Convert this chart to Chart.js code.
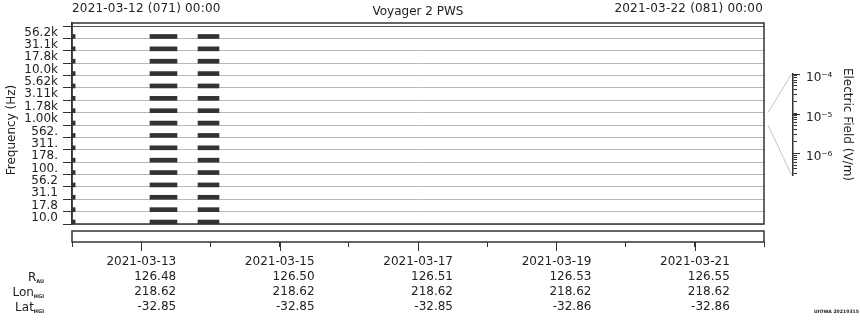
<!DOCTYPE html>
<html>
<head>
<meta charset="UTF-8">
<title>Voyager 2 PWS</title>
<script src="https://cdn.jsdelivr.net/npm/chart.js"></script>
<style>
  body { margin: 0; background: #fff; font-family: "DejaVu Sans", sans-serif; color: #222; }
  #wrap { position: relative; width: 860px; height: 320px; overflow: hidden; }
  canvas { position: absolute; }
  .txt { position: absolute; font-size: 12px; line-height: 14px; white-space: nowrap; }
  .txt sub { font-size: 5px; font-weight: bold; vertical-align: -2px; line-height: 0; }
  .stamp { position: absolute; font-size: 4.6px; line-height: 6px; font-weight: bold; white-space: nowrap; }
</style>
</head>
<body>
<div id="wrap">
  <canvas id="mainChart" width="860" height="228" style="left:0;top:0"></canvas>
  <canvas id="stripChart" width="860" height="95" style="left:0;top:225px"></canvas>
  <canvas id="cbarChart" width="96" height="140" style="left:764px;top:50px"></canvas>

  <div class="txt" style="left:72px;top:1px;letter-spacing:0.2px">2021-03-12 (071) 00:00</div>
  <div class="txt" style="left:0;width:836px;text-align:center;top:4px">Voyager 2 PWS</div>
  <div class="txt" style="right:97px;top:1px;letter-spacing:0.2px">2021-03-22 (081) 00:00</div>
  <div class="txt" style="left:11px;top:130px;transform:translate(-50%,-50%) rotate(-90deg)">Frequency (Hz)</div>

  <div class="txt" style="right:816px;top:270px">R<sub>AU</sub></div>
  <div class="txt" style="right:816px;top:285px">Lon<sub>HGI</sub></div>
  <div class="txt" style="right:816px;top:300px">Lat<sub>HGI</sub></div>
  <div class="stamp" style="right:1px;top:309px">UIOWA 20210315</div>
</div>

<script>
// frequency channels, top to bottom
const freqLabels = ['56.2k', '31.1k', '17.8k', '10.0k', '5.62k', '3.11k', '1.78k', '1.00k',
                    '562.', '311.', '178.', '100.', '56.2', '31.1', '17.8', '10.0'];
// burst windows, days after 2021-03-12 00:00
const bursts = [[0.0, 0.045], [1.127, 1.517], [1.821, 2.124]];

// bottom axis
const dayTicks = [0, 1, 2, 3, 4, 5, 6, 7, 8, 9, 10];
const labelDays = [1, 3, 5, 7, 9];
const dateLabels = ['2021-03-13', '2021-03-15', '2021-03-17', '2021-03-19', '2021-03-21'];
const rAU = ['126.48', '126.50', '126.51', '126.53', '126.55'];
const lonHGI = ['218.62', '218.62', '218.62', '218.62', '218.62'];
const latHGI = ['-32.85', '-32.85', '-32.85', '-32.86', '-32.86'];

// colorbar
const cbDecades = [-6, -5, -4];
const cbMin = Math.pow(10, -6.55);
const cbMax = 1e-4;
const fanChannel = '1.00k';

const nCh = freqLabels.length;
const BAR_POS = 0.16;
const FONT = { family: 'DejaVu Sans', size: 12 };

function burstData(b) {
  return freqLabels.map((_, k) => ({ y: nCh - 1 - k + BAR_POS, x: b }));
}

function channelTicks(n) {
  const t = [];
  for (let i = 0; i <= n; i++) t.push({ value: i });
  return t;
}

const frame = {
  id: 'frame',
  afterDraw(chart) {
    const a = chart.chartArea, c = chart.ctx;
    c.save();
    c.strokeStyle = '#333';
    c.lineWidth = 1.5;
    c.strokeRect(a.left, a.top, a.right - a.left, a.bottom - a.top);
    c.restore();
  }
};

// longer tick marks for the major values
const majorTicks = {
  id: 'majorTicks',
  afterDraw(chart, args, opts) {
    const s = chart.scales[opts.axis], c = chart.ctx;
    c.save();
    c.strokeStyle = '#333';
    c.lineWidth = 1;
    c.beginPath();
    opts.values.forEach(v => {
      const p = Math.round(s.getPixelForValue(v)) + 0.5;
      if (s.isHorizontal()) { c.moveTo(p, s.top); c.lineTo(p, s.top + opts.length); }
      else { c.moveTo(s.left, p); c.lineTo(s.left + opts.length, p); }
    });
    c.stroke();
    c.restore();
  }
};

const mainChart = new Chart(document.getElementById('mainChart'), {
  type: 'bar',
  data: {
    datasets: bursts.map(b => ({
      data: burstData(b),
      backgroundColor: '#333',
      borderWidth: 0,
      barThickness: 4,
      grouped: false
    }))
  },
  options: {
    indexAxis: 'y',
    responsive: false,
    animation: false,
    layout: { padding: { top: 23, right: 96, bottom: 4, left: 0 } },
    plugins: { legend: { display: false }, tooltip: { enabled: false } },
    scales: {
      x: { type: 'linear', min: 0, max: 10, display: false },
      y: {
        type: 'linear', min: 0, max: 16.25, offset: false,
        afterBuildTicks: s => { s.ticks = channelTicks(nCh); },
        afterFit: s => { s.width = 72; s.paddingTop = 0; s.paddingBottom = 0; },
        grid: {
          offset: false,
          color: ctx => (ctx.tick && ctx.tick.value === nCh) ? '#555' : '#b8b8b8',
          tickColor: '#333',
          tickLength: 9
        },
        border: { display: true, color: '#333', width: 1.5 },
        ticks: {
          autoSkip: false, padding: 5, labelOffset: -6, color: '#222', font: FONT,
          callback: v => v < nCh ? freqLabels[nCh - 1 - v] : ''
        }
      }
    }
  },
  plugins: [frame]
});

const stripChart = new Chart(document.getElementById('stripChart'), {
  type: 'scatter',
  data: { datasets: [] },
  options: {
    responsive: false,
    animation: false,
    layout: { padding: { top: 6, right: 96, left: 72, bottom: 0 } },
    plugins: {
      legend: { display: false }, tooltip: { enabled: false },
      majorTicks: { axis: 'x', values: labelDays, length: 9 }
    },
    scales: {
      x: {
        type: 'linear', min: 0, max: 10, position: 'bottom',
        afterBuildTicks: s => { s.ticks = dayTicks.map(v => ({ value: v })); },
        afterFit: s => { s.height = 78; s.paddingLeft = 0; s.paddingRight = 0; },
        grid: { drawOnChartArea: false, tickLength: 5, tickColor: '#333' },
        border: { display: false },
        ticks: {
          autoSkip: false, maxRotation: 0, align: 'end', labelOffset: 35, padding: 7,
          color: '#222', font: { family: 'DejaVu Sans', size: 12, lineHeight: '15px' },
          callback: v => {
            const i = labelDays.indexOf(v);
            return i < 0 ? '' : [dateLabels[i], rAU[i], lonHGI[i], latHGI[i]];
          }
        }
      },
      y: { display: false, min: 0, max: 1 }
    }
  },
  plugins: [frame, majorTicks]
});

const SUP = { '-': '\u207B', '0': '\u2070', '1': '\u00B9', '2': '\u00B2', '3': '\u00B3', '4': '\u2074',
              '5': '\u2075', '6': '\u2076', '7': '\u2077', '8': '\u2078', '9': '\u2079' };
function decadeLabel(e) {
  return '10' + String(e).split('').map(ch => SUP[ch]).join('');
}

const fan = {
  id: 'fan',
  afterDraw(chart) {
    const a = chart.chartArea, c = chart.ctx;
    const off = -50; // main canvas top minus colorbar canvas top
    const k = nCh - 1 - freqLabels.indexOf(fanChannel);
    const y0 = mainChart.scales.y.getPixelForValue(k + 1) + off;
    const y1 = mainChart.scales.y.getPixelForValue(k) + off;
    c.save();
    c.strokeStyle = '#c4c4c4';
    c.lineWidth = 1;
    c.beginPath();
    c.moveTo(a.left + 3, y0); c.lineTo(a.right - 1.5, a.top);
    c.moveTo(a.left + 3, y1); c.lineTo(a.right - 1.5, a.bottom);
    c.stroke();
    c.restore();
  }
};

const cbarChart = new Chart(document.getElementById('cbarChart'), {
  type: 'scatter',
  data: { datasets: [] },
  options: {
    responsive: false,
    animation: false,
    layout: { padding: { top: 24, bottom: 15, left: 1, right: 0 } },
    plugins: {
      legend: { display: false }, tooltip: { enabled: false },
      majorTicks: { axis: 'y', values: cbDecades.map(e => Math.pow(10, e)), length: 7 }
    },
    scales: {
      x: { display: false, min: 0, max: 1 },
      y: {
        type: 'logarithmic', position: 'right', min: cbMin, max: cbMax,
        afterBuildTicks: s => {
          const t = [];
          for (let e = -7; e <= -4; e++) {
            for (let m = 1; m <= 9; m++) {
              const v = m * Math.pow(10, e);
              if (v >= s.min * 0.999 && v <= s.max * 1.001) t.push({ value: v });
            }
          }
          s.ticks = t;
        },
        afterFit: s => { s.width = 67; s.paddingTop = 0; s.paddingBottom = 0; },
        grid: { drawOnChartArea: false, tickLength: 4, tickColor: '#333' },
        border: { display: true, color: '#333', width: 1.5 },
        ticks: {
          autoSkip: false, padding: 9, labelOffset: 4, color: '#222', font: FONT,
          callback: v => {
            const e = Math.log10(v);
            return Math.abs(e - Math.round(e)) < 1e-6 && cbDecades.includes(Math.round(e)) ? decadeLabel(Math.round(e)) : '';
          }
        },
        title: { display: true, text: 'Electric Field (V/m)', color: '#222', font: FONT, padding: { top: 6, bottom: 0 } }
      }
    }
  },
  plugins: [fan, majorTicks]
});
</script>
</body>
</html>
